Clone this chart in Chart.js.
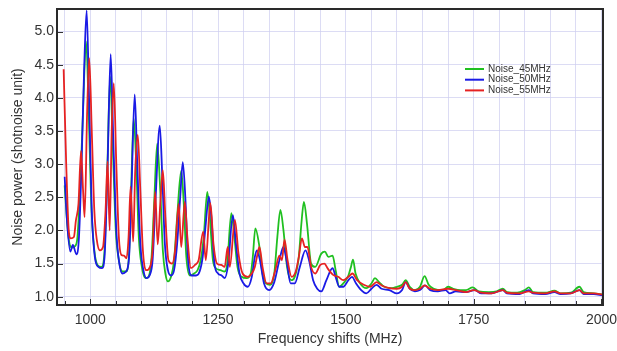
<!DOCTYPE html>
<html>
<head>
<meta charset="utf-8">
<script src="https://cdn.jsdelivr.net/npm/chart.js@4"></script>
<style>
  body { margin: 0; background: #fff; }
  #wrap { width: 617px; height: 351px; }
</style>
</head>
<body>
<div id="wrap"><canvas id="noiseChart" width="617" height="351"></canvas></div>
<script>
// datos (MHz, unidades de shot noise)
const seriesNames = ['Noise_45MHz', 'Noise_50MHz', 'Noise_55MHz'];
const seriesColors = ['#20c020', '#1a1ae6', '#e62222'];

const freq45 = [950,955,960,965,970,975,980,985,992,997,1002,1008,1015,1022,1028,1033,1039,1044,1050,1056,1063,1070,1076,1080,1085,1090,1095,1101,1108,1114,1120,1125,1131,1137,1142,1147,1152,1158,1164,1170,1178,1183,1188,1195,1203,1210,1216,1222,1229,1234,1240,1246,1255,1263,1268,1276,1282,1288,1296,1306,1314,1318,1323,1330,1337,1344,1352,1360,1366,1372,1378,1385,1393,1400,1408,1413,1418,1424,1432,1440,1452,1459,1466,1474,1480,1487,1495,1505,1510,1514,1519,1528,1540,1550,1557,1565,1575,1590,1600,1610,1617,1625,1635,1645,1654,1662,1672,1690,1700,1710,1725,1735,1748,1760,1780,1795,1807,1815,1835,1850,1858,1866,1890,1908,1920,1940,1957,1965,1985,2002];
const noise45 = [2.68,2.1,1.78,1.74,1.76,1.9,2.6,3.6,4.85,3.8,2.4,1.7,1.47,1.45,1.7,2.8,4.32,3.3,2.0,1.55,1.38,1.38,1.65,2.6,3.69,3.0,1.9,1.45,1.28,1.3,1.6,2.4,3.31,2.6,1.7,1.35,1.23,1.3,1.55,2.2,2.9,2.4,1.6,1.32,1.35,1.4,1.55,1.9,2.58,2.2,1.55,1.43,1.4,1.38,1.5,2.26,1.9,1.45,1.3,1.28,1.35,1.6,2.03,1.8,1.35,1.2,1.18,1.35,1.9,2.31,2.0,1.45,1.25,1.3,1.6,2.1,2.43,2.1,1.5,1.45,1.65,1.68,1.6,1.62,1.4,1.15,1.2,1.32,1.45,1.56,1.35,1.2,1.13,1.2,1.28,1.22,1.15,1.13,1.15,1.18,1.25,1.15,1.1,1.15,1.31,1.18,1.12,1.1,1.15,1.12,1.1,1.1,1.14,1.08,1.07,1.08,1.12,1.07,1.06,1.1,1.14,1.07,1.06,1.09,1.05,1.06,1.15,1.07,1.05,1.03];

const freq50 = [950,955,961,966,973,978,983,988,993,998,1003,1009,1016,1023,1028,1034,1040,1045,1051,1057,1063,1070,1076,1081,1087,1092,1098,1104,1110,1116,1122,1128,1136,1141,1146,1152,1158,1164,1170,1176,1181,1186,1191,1198,1207,1214,1220,1226,1232,1237,1243,1250,1257,1263,1270,1279,1285,1292,1300,1308,1316,1322,1326,1332,1340,1350,1360,1370,1378,1384,1392,1400,1410,1421,1428,1436,1444,1452,1462,1474,1480,1487,1495,1505,1512,1520,1530,1540,1550,1560,1570,1585,1600,1610,1617,1625,1635,1645,1655,1665,1680,1695,1703,1715,1735,1752,1765,1785,1807,1815,1840,1858,1866,1890,1908,1920,1940,1957,1965,1985,2002];
const noise50 = [2.81,2.1,1.68,1.78,1.64,1.9,3.0,4.4,5.32,3.9,2.3,1.6,1.45,1.43,1.6,3.0,4.66,3.4,2.0,1.5,1.35,1.38,1.6,2.7,4.05,3.0,1.8,1.4,1.28,1.32,1.55,2.5,3.58,2.8,1.8,1.4,1.32,1.4,1.8,2.5,3.03,2.5,1.6,1.32,1.32,1.38,1.6,2.1,2.51,2.2,1.5,1.35,1.32,1.28,1.5,2.23,1.8,1.35,1.2,1.15,1.3,1.6,1.7,1.55,1.2,1.1,1.22,1.55,1.75,1.55,1.2,1.2,1.45,1.7,1.55,1.25,1.12,1.08,1.25,1.43,1.3,1.15,1.15,1.25,1.3,1.2,1.1,1.05,1.12,1.18,1.12,1.1,1.05,1.1,1.22,1.12,1.08,1.1,1.17,1.1,1.08,1.1,1.05,1.08,1.07,1.1,1.05,1.05,1.1,1.05,1.04,1.1,1.05,1.04,1.07,1.04,1.05,1.1,1.04,1.04,1.02];

const freq55 = [948,953,958,962,968,972,977,982,986,989,994,998,1003,1008,1013,1019,1025,1030,1034,1038,1042,1046,1051,1056,1061,1066,1071,1075,1079,1084,1088,1093,1098,1103,1110,1117,1122,1127,1132,1137,1142,1147,1153,1160,1166,1173,1178,1185,1190,1197,1205,1212,1221,1226,1235,1241,1248,1256,1263,1269,1273,1283,1290,1298,1308,1316,1322,1326,1331,1337,1345,1353,1362,1370,1375,1380,1386,1394,1402,1408,1414,1420,1425,1432,1440,1450,1458,1465,1475,1485,1495,1505,1513,1522,1535,1548,1560,1570,1585,1600,1610,1617,1625,1635,1645,1654,1665,1680,1700,1715,1735,1750,1765,1785,1807,1815,1840,1858,1866,1890,1908,1920,1940,1957,1965,1985,2002];
const noise55 = [4.43,3.0,2.0,1.88,1.9,2.15,2.4,3.2,2.6,2.2,3.8,4.6,3.5,2.3,1.85,1.7,1.75,2.3,3.04,2.0,3.5,4.22,3.0,1.9,1.63,1.62,1.58,1.9,2.66,1.83,2.9,3.44,2.6,1.7,1.4,1.45,1.7,2.58,1.79,2.4,2.91,2.2,1.55,1.5,1.7,2.4,1.75,2.43,1.9,1.43,1.48,1.55,1.98,1.55,2.41,1.8,1.5,1.48,1.45,1.75,1.45,2.16,1.65,1.35,1.3,1.35,1.45,1.6,1.75,1.45,1.2,1.2,1.4,1.62,1.55,1.86,1.55,1.3,1.38,1.6,1.88,1.75,1.75,1.45,1.35,1.48,1.5,1.42,1.33,1.3,1.25,1.3,1.35,1.25,1.18,1.15,1.22,1.17,1.13,1.12,1.15,1.22,1.12,1.1,1.12,1.17,1.12,1.1,1.12,1.1,1.07,1.1,1.06,1.05,1.1,1.06,1.05,1.08,1.06,1.05,1.08,1.05,1.05,1.1,1.05,1.05,1.03];

const xTickValues = [1000, 1250, 1500, 1750, 2000];
const yTickValues = [1.0, 1.5, 2.0, 2.5, 3.0, 3.5, 4.0, 4.5, 5.0];

const FONT = "'Liberation Sans', Arial, sans-serif";

function toPoints(xs, ys) {
    return xs.map((x, i) => ({ x: x, y: ys[i] }));
}

// borde, marcas interiores y leyenda
const framePlugin = {
    id: 'frame',
    afterDraw(chart) {
        const ctx = chart.ctx;
        const a = chart.chartArea;
        const xs = chart.scales.x;
        const ys = chart.scales.y;
        ctx.save();
        ctx.strokeStyle = '#333';
        ctx.lineWidth = 1;
        // marcas del eje x cada 50 MHz
        for (let f = 950; f <= 2000; f += 50) {
            const px = Math.round(xs.getPixelForValue(f)) + 0.5;
            const len = xTickValues.includes(f) ? 6 : 4;
            ctx.beginPath();
            ctx.moveTo(px, a.bottom);
            ctx.lineTo(px, a.bottom - len);
            ctx.stroke();
        }
        yTickValues.forEach(v => {
            const py = Math.round(ys.getPixelForValue(v)) + 0.5;
            ctx.beginPath();
            ctx.moveTo(a.left, py);
            ctx.lineTo(a.left + 6, py);
            ctx.stroke();
        });
        ctx.lineWidth = 2;
        ctx.strokeStyle = '#2a2a2a';
        ctx.strokeRect(a.left, a.top, a.right - a.left, a.bottom - a.top);

        // leyenda
        ctx.font = '10px ' + FONT;
        ctx.textBaseline = 'middle';
        ctx.textAlign = 'left';
        seriesNames.forEach((name, i) => {
            const y = 69 + i * 10.7;
            ctx.strokeStyle = seriesColors[i];
            ctx.lineWidth = 2;
            ctx.beginPath();
            ctx.moveTo(465, y);
            ctx.lineTo(484, y);
            ctx.stroke();
            ctx.fillStyle = '#333';
            ctx.fillText(name, 488, y);
        });
        ctx.restore();
    }
};

const datasets = [
    { label: seriesNames[0], data: toPoints(freq45, noise45), borderColor: seriesColors[0], order: 3 },
    { label: seriesNames[1], data: toPoints(freq50, noise50), borderColor: seriesColors[1], order: 2 },
    { label: seriesNames[2], data: toPoints(freq55, noise55), borderColor: seriesColors[2], order: 1 }
];
datasets.forEach(d => {
    d.borderWidth = 1.8;
    d.pointRadius = 0;
    d.fill = false;
    d.tension = 0.3;
    d.cubicInterpolationMode = 'monotone';
});

const gridColor = 'rgba(205, 205, 240, 0.7)';

new Chart(document.getElementById('noiseChart'), {
    type: 'line',
    data: { datasets: datasets },
    options: {
        responsive: false,
        animation: false,
        layout: { padding: { left: 0, right: 14, top: 9, bottom: 0 } },
        plugins: {
            legend: { display: false },
            tooltip: { enabled: false }
        },
        scales: {
            x: {
                type: 'linear',
                min: 935,
                max: 2003,
                afterFit: s => { s.height = 46; s.paddingLeft = 0; s.paddingRight = 0; },
                grid: { color: gridColor, drawTicks: false },
                border: { display: false },
                ticks: {
                    stepSize: 50,
                    includeBounds: false,
                    autoSkip: false,
                    maxRotation: 0,
                    padding: 7,
                    color: '#333',
                    font: { family: FONT, size: 14 },
                    callback: v => (xTickValues.includes(v) ? String(v) : '')
                },
                title: {
                    display: true,
                    text: 'Frequency shifts (MHz)',
                    color: '#333',
                    font: { family: FONT, size: 14 },
                    padding: { top: 0, bottom: 3 }
                }
            },
            y: {
                min: 0.875,
                max: 5.34,
                afterFit: s => { s.width = 57; s.paddingTop = 0; s.paddingBottom = 0; },
                grid: { color: gridColor, drawTicks: false },
                border: { display: false },
                ticks: {
                    stepSize: 0.5,
                    includeBounds: false,
                    padding: 3,
                    color: '#333',
                    font: { family: FONT, size: 14 },
                    callback: v => v.toFixed(1)
                },
                title: {
                    display: true,
                    text: 'Noise power (shotnoise unit)',
                    color: '#333',
                    font: { family: FONT, size: 14 },
                    padding: { top: 10, bottom: 0 }
                }
            }
        }
    },
    plugins: [framePlugin]
});
</script>
</body>
</html>
